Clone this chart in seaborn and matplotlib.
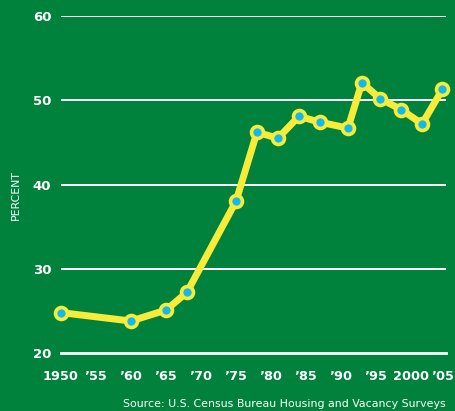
import matplotlib
matplotlib.use("Agg")
import matplotlib.pyplot as plt
import matplotlib.transforms as mtransforms
import seaborn as sns
import pandas as pd

# Data
years = [1950, 1960, 1965, 1968, 1975, 1978, 1981, 1984, 1987, 1991, 1993, 1995.6, 1998.6, 2001.6, 2004.5]
percent = [24.8, 23.8, 25.1, 27.2, 38.0, 46.2, 45.5, 48.1, 47.4, 46.7, 52.1, 50.2, 48.9, 47.2, 51.3]
tick_years = [1950, 1955, 1960, 1965, 1970, 1975, 1980, 1985, 1990, 1995, 2000, 2005]
tick_labels = ["1950", "\u201955", "\u201960", "\u201965", "\u201970", "\u201975",
               "\u201980", "\u201985", "\u201990", "\u201995", "2000", "\u201905"]
y_ticks = [20, 30, 40, 50, 60]

df = pd.DataFrame({"year": years, "percent": percent})

green = "#00813C"
yellow = "#F8EC3B"
cyan = "#12B9EC"

sns.set_style("white")
plt.rcParams["font.family"] = ["DejaVu Sans"]

fig = plt.figure(figsize=(4.55, 4.11), dpi=100, facecolor=green)
ax = fig.add_axes([0.134, 0.141, 0.846, 0.820])
ax.set_facecolor(green)

# gridlines
for y in y_ticks[1:]:
    ax.axhline(y, color="white", linewidth=1.4, zorder=1)

sns.lineplot(data=df, x="year", y="percent", ax=ax, color=yellow, linewidth=5,
             marker="o", markersize=8.6, markerfacecolor=cyan,
             markeredgecolor=yellow, markeredgewidth=2.6, zorder=3,
             solid_joinstyle="round", solid_capstyle="round", clip_on=False)

ax.set_xlim(1950, 2005)
ax.set_ylim(20, 60)
ax.set_xticks(tick_years)
ax.set_xticklabels(tick_labels)
ax.set_yticks(y_ticks)
ax.set_xlabel("")
ax.set_ylabel("")

for s in ["top", "right", "left"]:
    ax.spines[s].set_visible(False)
ax.spines["bottom"].set_color("white")
ax.spines["bottom"].set_linewidth(2)
ax.spines["bottom"].set_zorder(2)

ax.tick_params(axis="x", direction="out", length=6, width=1.5, color="white",
               labelcolor="white", labelsize=9.3, pad=6)
ax.tick_params(axis="y", length=0, labelcolor="white", labelsize=9.5, pad=7)
for lab in ax.get_xticklabels() + ax.get_yticklabels():
    lab.set_fontweight("bold")

# nudge last label so it stays inside the figure
last = ax.get_xticklabels()[-1]
last.set_transform(last.get_transform() +
                   mtransforms.ScaledTranslation(-3.5 / 100, 0, fig.dpi_scale_trans))

fig.text(0.035, 0.525, "PERCENT", rotation=90, color="white", fontsize=7.8,
         ha="center", va="center")
fig.text(0.98, 0.017, "Source: U.S. Census Bureau Housing and Vacancy Surveys",
         color="white", fontsize=7.9, ha="right", va="center")

fig.savefig("out.png", dpi=100, facecolor=green)
